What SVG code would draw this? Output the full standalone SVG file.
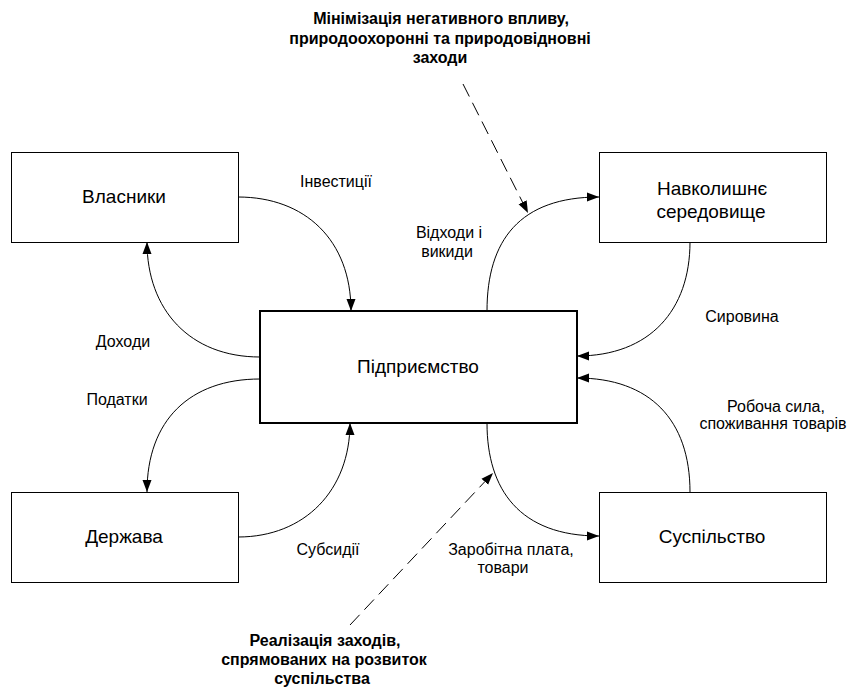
<svg xmlns="http://www.w3.org/2000/svg" width="849" height="690" viewBox="0 0 849 690">
<style>
.box{fill:#fff;stroke:#000;stroke-width:1}
.main{fill:#fff;stroke:#000;stroke-width:2}
.nt{font-family:"Liberation Sans",Arial,sans-serif;font-size:19px;fill:#000;text-anchor:middle}
.et{font-family:"Liberation Sans",Arial,sans-serif;font-size:16px;fill:#000;text-anchor:middle}
.bt{font-family:"Liberation Sans",Arial,sans-serif;font-size:16px;font-weight:bold;fill:#000;text-anchor:middle}
.c{fill:none;stroke:#000;stroke-width:1;marker-end:url(#ah)}
.d{fill:none;stroke:#000;stroke-width:1;stroke-dasharray:14 7;marker-end:url(#ah)}
</style>
<defs>
<marker id="ah" markerUnits="userSpaceOnUse" viewBox="0 0 12 10" refX="12" refY="5" markerWidth="12" markerHeight="10" orient="auto">
<path d="M0,0.5 L12,5 L0,9.5 Z" fill="#000"/>
</marker>
</defs>
<rect width="849" height="690" fill="#fff"/>
<g id="connectors">
<path class="c" d="M238,197 C305,197 351,240 351,311"/>
<path class="c" d="M260,357 C190,357 147,310 147,242"/>
<path class="c" d="M260,379 C190,379 147,420 147,492"/>
<path class="c" d="M238,537 C305,537 350,490 350,423"/>
<path class="c" d="M487,311 C487,240 520,197 599,197"/>
<path class="c" d="M690,242 C690,310 650,356 577,356"/>
<path class="c" d="M690,492 C690,420 650,378 577,378"/>
<path class="c" d="M487,423 C487,490 520,536 599,536"/>
<path class="d" d="M463,84 L528,213"/>
<path class="d" d="M350,625 L493,473"/>
</g>
<g id="n-vlasnyky"><rect class="box" x="11.5" y="152.5" width="227" height="90"/><text class="nt" x="124" y="203">Власники</text></g>
<g id="n-pidpryiemstvo"><rect class="main" x="260" y="311" width="317" height="112"/><text class="nt" x="418" y="373">Підприємство</text></g>
<g id="n-navkolyshnie"><rect class="box" x="599.5" y="152.5" width="227" height="90"/><text class="nt" x="712" y="195">Навколишнє</text><text class="nt" x="711" y="218">середовище</text></g>
<g id="n-derzhava"><rect class="box" x="11.5" y="492.5" width="227" height="90"/><text class="nt" x="124" y="543">Держава</text></g>
<g id="n-suspilstvo"><rect class="box" x="599.5" y="492.5" width="227" height="90"/><text class="nt" x="712" y="543">Суспільство</text></g>
<g id="labels">
<text class="et" x="336" y="187">Інвестиції</text>
<text class="et" x="449" y="238">Відходи і</text>
<text class="et" x="447" y="257">викиди</text>
<text class="et" x="123" y="347">Доходи</text>
<text class="et" x="117" y="405">Податки</text>
<text class="et" x="328" y="555">Субсидії</text>
<text class="et" x="742" y="322">Сировина</text>
<text class="et" x="776" y="412">Робоча сила,</text>
<text class="et" x="773" y="429">споживання товарів</text>
<text class="et" x="511" y="555">Заробітна плата,</text>
<text class="et" x="503" y="573">товари</text>
<text class="bt" x="441" y="24">Мінімізація негативного впливу,</text>
<text class="bt" x="440" y="44">природоохоронні та природовідновні</text>
<text class="bt" x="440" y="63">заходи</text>
<text class="bt" x="325" y="646">Реалізація заходів,</text>
<text class="bt" x="324" y="665">спрямованих на розвиток</text>
<text class="bt" x="322" y="684">суспільства</text>
</g>
</svg>
